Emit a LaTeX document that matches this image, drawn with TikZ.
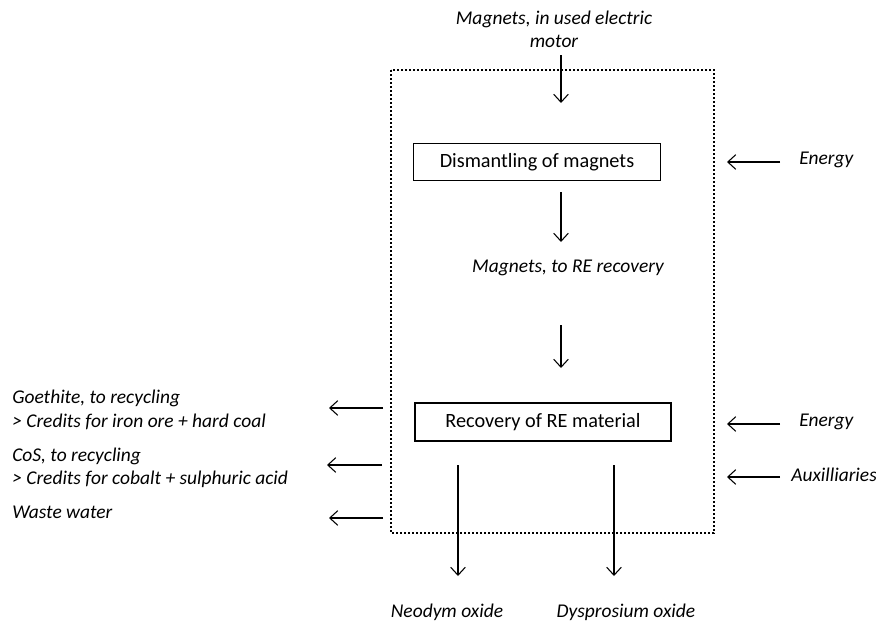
\documentclass[tikz,border=0pt]{standalone}
\usepackage{fontspec}
\setmainfont{Carlito}
\usetikzlibrary{arrows.meta}
\begin{document}
\begin{tikzpicture}[x=0.75pt,y=-0.75pt,
  lbl/.style={font=\itshape\fontsize{14.6}{17.5}\selectfont, inner sep=0pt},
  lbll/.style={lbl, anchor=west, align=left},
  procbox/.style={draw, line width=0.8pt, minimum width=247*0.75pt, minimum height=37*0.75pt, font=\fontsize{15.2}{17}\selectfont, inner sep=0pt},
  flow/.style={line width=0.8pt, -{Straight Barb[length=6pt,width=11pt,line width=0.8pt]}},
  sysbox/.style={line width=1.8pt, dash pattern=on 1.6pt off 1.4pt}]
\useasboundingbox (0,0) rectangle (876,625);
% system boundary
\draw[sysbox] (391,70) rectangle (714,533);
% process boxes
\node[procbox] (dis) at (537,162) {Dismantling of magnets};
\node[procbox, minimum width=256*0.75pt, minimum height=38*0.75pt] (rec) at (543,422) {Recovery of RE material};
% top input
\node[lbl, align=center] (inp) at (554,29) {Magnets, in used electric\\motor};
\coordinate (inS) at (561,55);
\coordinate (inE) at (561,103);
\draw[flow] (inS) -- (inE);
% intermediate
\coordinate (m1) at (561,192);
\coordinate (m2) at (561,242);
\draw[flow] (m1) -- (m2);
\node[lbl] (mid) at (568,268) {Magnets, to RE recovery};
\coordinate (m3) at (561,325);
\coordinate (m4) at (561,368);
\draw[flow] (m3) -- (m4);
% right inputs
\node[lbl, anchor=west] (e1) at (799,160) {Energy};
\coordinate (e1s) at (780,162);
\coordinate (e1e) at (727,162);
\draw[flow] (e1s) -- (e1e);
\node[lbl, anchor=west] (e2) at (799,422) {Energy};
\coordinate (e2s) at (780,424);
\coordinate (e2e) at (727,424);
\draw[flow] (e2s) -- (e2e);
\node[lbl, anchor=west] (aux) at (791,475) {Auxilliaries};
\coordinate (a1s) at (780,477);
\coordinate (a1e) at (727,477);
\draw[flow] (a1s) -- (a1e);
% left outputs
\node[lbll] (goe) at (12,410) {Goethite, to recycling\\> Credits for iron ore + hard coal};
\coordinate (g1s) at (383,408);
\coordinate (g1e) at (329,408);
\draw[flow] (g1s) -- (g1e);
\node[lbll] (cos) at (12,468) {CoS, to recycling\\> Credits for cobalt + sulphuric acid};
\coordinate (c1s) at (382,465);
\coordinate (c1e) at (327,465);
\draw[flow] (c1s) -- (c1e);
\node[lbll] (ww) at (12,512) {Waste water};
\coordinate (w1s) at (383,518);
\coordinate (w1e) at (329,518);
\draw[flow] (w1s) -- (w1e);
% bottom outputs
\coordinate (n1s) at (458,465);
\coordinate (n1e) at (458,576);
\draw[flow] (n1s) -- (n1e);
\node[lbl] (neo) at (447,612) {Neodym oxide};
\coordinate (d1s) at (614,465);
\coordinate (d1e) at (614,576);
\draw[flow] (d1s) -- (d1e);
\node[lbl] (dys) at (626,612) {Dysprosium oxide};
\end{tikzpicture}
\end{document}
